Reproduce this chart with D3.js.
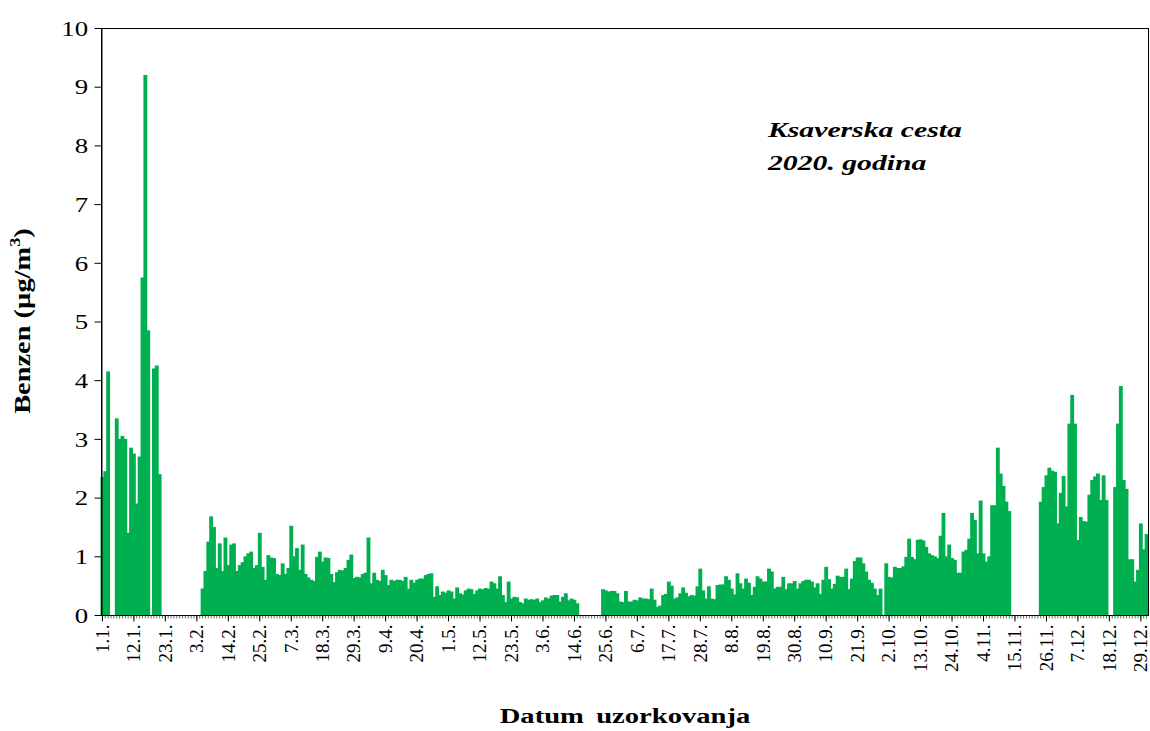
<!DOCTYPE html>
<html><head><meta charset="utf-8">
<script src="https://cdn.jsdelivr.net/npm/d3@7"></script>
<style>
body{margin:0;background:#fff}
svg{display:block}
text{font-family:"Liberation Serif","Times New Roman",serif;fill:#000}
</style>
</head><body>
<svg id="c" width="1150" height="731"></svg>
<script>
// Daily benzene concentrations (µg/m3), Ksaverska cesta, 2020 — one array per month (null = no measurement)
const jan=[2.35,2.45,4.15,null,null,3.35,3.0,3.05,3.0,1.4,2.85,2.75,1.9,2.7,5.75,9.2,4.85,null,4.2,4.25,2.4,null,null,null,null,null,null,null,null,null,null];
const feb=[null,null,null,null,0.45,0.75,1.25,1.68,1.5,0.8,1.22,0.75,1.32,0.85,1.2,1.22,0.75,0.85,0.9,1.0,1.05,1.08,0.8,0.85,1.4,0.82,0.6,1.02,0.98];
const mar=[0.97,0.7,0.68,0.88,0.7,0.8,1.52,1.0,1.14,0.77,1.2,0.7,0.64,0.6,0.58,0.99,1.08,0.91,0.98,0.97,0.7,0.56,0.73,0.77,0.76,0.8,0.94,1.03,0.63,0.65,0.64];
const apr=[0.7,0.72,1.32,0.54,0.72,0.6,0.58,0.77,0.68,0.51,0.6,0.58,0.6,0.6,0.58,0.65,0.45,0.6,0.55,0.6,0.62,0.62,0.68,0.7,0.71,0.31,0.49,0.34,0.4,0.38];
const may=[0.42,0.4,0.28,0.47,0.37,0.35,0.42,0.45,0.44,0.36,0.42,0.45,0.44,0.46,0.45,0.57,0.54,0.45,0.66,0.34,0.22,0.57,0.28,0.31,0.3,0.22,0.2,0.28,0.26,0.27,0.26];
const jun=[0.28,0.22,0.25,0.3,0.28,0.33,0.34,0.34,0.23,0.31,0.37,0.25,0.28,0.26,0.2,null,null,null,null,null,null,null,null,0.44,0.42,0.4,0.41,0.41,0.37,0.23];
const jul=[0.22,0.41,0.23,0.23,0.26,0.25,0.3,0.28,0.28,0.27,0.45,0.26,0.14,0.16,0.34,0.36,0.57,0.5,0.28,0.3,0.37,0.47,0.38,0.32,0.34,0.33,0.49,0.79,0.42,0.28,0.49];
const aug=[0.28,0.27,0.51,0.52,0.52,0.66,0.6,0.45,0.35,0.71,0.54,0.45,0.62,0.55,0.34,0.48,0.66,0.62,0.57,0.57,0.79,0.74,0.45,0.48,0.48,0.65,0.44,0.54,0.54,0.58,0.45];
const sep=[0.54,0.58,0.6,0.6,0.57,0.47,0.54,0.36,0.6,0.82,0.61,0.45,0.53,0.67,0.65,0.65,0.79,0.44,0.62,0.92,0.98,0.98,0.88,0.74,0.6,0.55,0.45,0.34,0.45,null];
const oct=[0.88,0.65,0.64,0.82,0.8,0.8,0.83,0.99,1.3,0.99,0.95,1.28,1.29,1.27,1.16,1.05,1.02,1.0,0.97,1.35,1.74,1.0,1.2,0.97,0.94,0.72,0.72,1.08,1.11,1.3,1.74];
const nov=[1.62,1.05,1.95,1.05,0.91,1.0,1.87,1.87,2.85,2.41,2.2,1.93,1.77,null,null,null,null,null,null,null,null,null,null,1.93,2.18,2.38,2.51,2.46,2.44,1.56];
const dec=[2.08,2.37,1.85,3.26,3.75,3.26,1.28,1.67,1.6,1.59,2.05,2.3,2.36,2.41,1.96,2.38,1.96,null,null,2.18,3.26,3.9,2.3,2.15,0.95,0.95,0.57,0.77,1.56,1.12,1.38];

const tickLabels=["1.1.","12.1.","23.1.","3.2.","14.2.","25.2.","7.3.","18.3.","29.3.","9.4.","20.4.","1.5.","12.5.","23.5.","3.6.","14.6.","25.6.","6.7.","17.7.","28.7.","8.8.","19.8.","30.8.","10.9.","21.9.","2.10.","13.10.","24.10.","4.11.","15.11.","26.11.","7.12.","18.12.","29.12."];
const yTicks=[0,1,2,3,4,5,6,7,8,9,10];

const values=[jan,feb,mar,apr,may,jun,jul,aug,sep,oct,nov,dec].flat();
const categories=d3.timeDay.range(new Date(2020,0,1),new Date(2021,0,1)).map(d3.timeFormat("%-d.%-m."));
const data=categories.map((c,i)=>({c,v:values[i]}));

const L=101,R=1148,T=28,B=615;
const svg=d3.select("#c");
const x=d3.scaleBand().domain(categories).range([L,R]).padding(0);
const y=d3.scaleLinear().domain([0,10]).range([B,T]);

// bars (slight overlap so adjacent bars touch without hairline gaps)
svg.append("g").selectAll("rect").data(data.filter(d=>d.v!=null)).join("rect")
  .attr("x",d=>x(d.c)-0.5).attr("width",x.bandwidth()+1)
  .attr("y",d=>y(d.v)).attr("height",d=>y(0)-y(d.v))
  .attr("fill","#00B050");

// frame
svg.append("rect").attr("x",L+0.5).attr("y",T+0.5).attr("width",R-L).attr("height",B-T)
  .attr("fill","none").attr("stroke","#000").attr("stroke-width",1);

// y axis
const ya=svg.append("g").attr("transform",`translate(${L+0.5},0)`)
  .call(d3.axisLeft(y).tickValues(yTicks).tickSize(7).tickSizeOuter(0));
ya.select(".domain").attr("stroke","#000");
ya.selectAll(".tick line").attr("stroke","#000");
ya.selectAll(".tick text").attr("x",-11).attr("dy","0.33em")
  .attr("transform","scale(1.22,1)").style("font-size","22px").style("font-family","Liberation Serif");

// x axis minor ticks
const xm=svg.append("g").attr("transform",`translate(0,${B+0.5})`)
  .call(d3.axisBottom(x).tickValues(categories).tickSize(3).tickFormat(""));
xm.select(".domain").remove();
xm.selectAll(".tick line").attr("stroke","#444").attr("stroke-width",0.8);

// x axis major ticks + labels
const xa=svg.append("g").attr("transform",`translate(0,${B+0.5})`)
  .call(d3.axisBottom(x).tickValues(tickLabels).tickSize(6).tickSizeOuter(0));
xa.select(".domain").remove();
xa.selectAll(".tick line").attr("stroke","#000");
xa.selectAll(".tick text").attr("y",0).attr("x",-9).attr("dy","0.33em")
  .attr("transform","rotate(-90)").style("text-anchor","end")
  .style("font-size","19px").style("font-family","Liberation Serif");

// y label
const yl=svg.append("text").attr("transform","translate(30,321) rotate(-90) scale(1.42,1.2)")
  .attr("text-anchor","middle").style("font-size","20px").style("font-weight","bold");
yl.append("tspan").text("Benzen (µg/m");
yl.append("tspan").attr("dy",-8).style("font-size","13px").text("3");
yl.append("tspan").attr("dy",8).text(")");

// x label
svg.append("text").attr("transform","translate(625,723) scale(1.3,1)")
  .attr("text-anchor","middle").style("font-size","22px").style("font-weight","bold")
  .style("word-spacing","4px").text("Datum uzorkovanja");

// annotation
const ann=svg.append("g").attr("transform","translate(768,0)");
ann.append("text").attr("transform","translate(0,137) scale(1.35,1)")
  .style("font-size","22px").style("font-weight","bold").style("font-style","italic").text("Ksaverska cesta");
ann.append("text").attr("transform","translate(0,170) scale(1.35,1)")
  .style("font-size","22px").style("font-weight","bold").style("font-style","italic").text("2020. godina");
</script>
</body></html>
